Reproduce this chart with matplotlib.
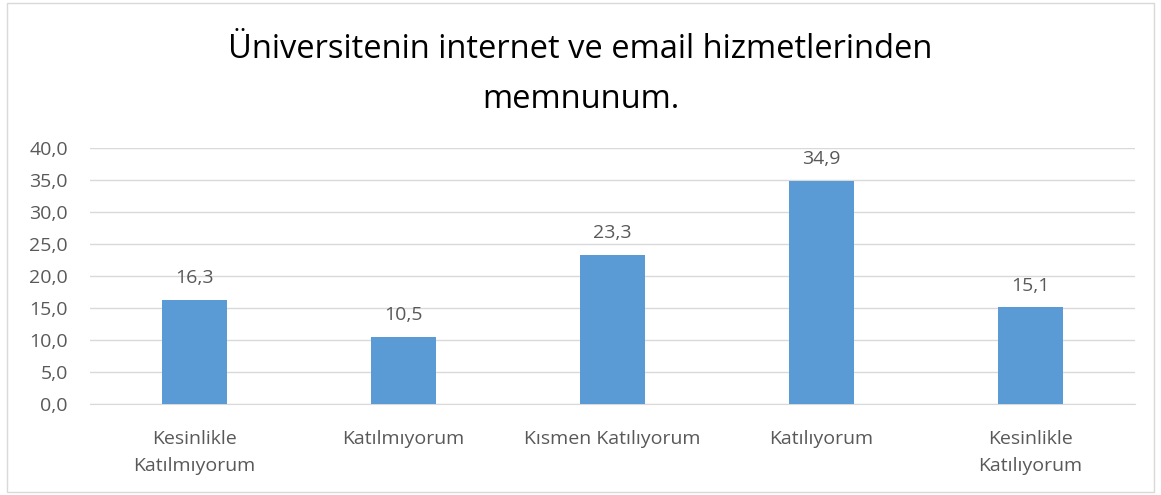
import matplotlib.pyplot as plt
from matplotlib.patches import Rectangle
from matplotlib.ticker import FuncFormatter

plt.rcParams['font.family'] = ['Open Sans', 'DejaVu Sans']

categories = ['Kesinlikle\nKatılmıyorum', 'Katılmıyorum', 'Kısmen Katılıyorum',
              'Katılıyorum', 'Kesinlikle\nKatılıyorum']
values = [16.3, 10.5, 23.3, 34.9, 15.1]
yticks = [0, 5, 10, 15, 20, 25, 30, 35, 40]

text_color = '#595959'
bar_color = '#5B9BD5'
grid_color = '#D9D9D9'

fig = plt.figure(figsize=(11.61, 4.95), dpi=100)
ax = fig.add_axes([0.0775, 0.184, 0.9, 0.517])

x = range(len(categories))
bars = ax.bar(x, values, width=0.31, color=bar_color, zorder=3)

for b, v in zip(bars, values):
    ax.annotate(f'{v:.1f}'.replace('.', ','), (b.get_x() + b.get_width() / 2, v),
                xytext=(0, 9), textcoords='offset points', ha='center', va='bottom',
                fontsize=14, color=text_color)

ax.set_xlim(-0.5, len(categories) - 0.5)
ax.set_ylim(0, 40)
ax.set_yticks(yticks)
ax.yaxis.set_major_formatter(FuncFormatter(lambda v, p: f'{v:.1f}'.replace('.', ',')))
ax.set_xticks(list(x))
ax.set_xticklabels(categories, linespacing=1.7)
ax.tick_params(axis='both', length=0, labelsize=14, labelcolor=text_color)
ax.tick_params(axis='x', pad=18.5)
ax.tick_params(axis='y', pad=16)
ax.grid(axis='y', color=grid_color, linewidth=1, zorder=0)
for s in ['top', 'right', 'left']:
    ax.spines[s].set_visible(False)
ax.spines['bottom'].set_color(grid_color)

fig.text(0.5, 0.85, 'Üniversitenin internet ve email hizmetlerinden\nmemnunum.',
         ha='center', va='center', fontsize=23.5, color='black', linespacing=1.7)

fig.patches.append(Rectangle((0.006, 0.006), 0.988, 0.988, transform=fig.transFigure,
                             fill=False, edgecolor='#D9D9D9', linewidth=1))

fig.savefig('out.png', dpi=100)
